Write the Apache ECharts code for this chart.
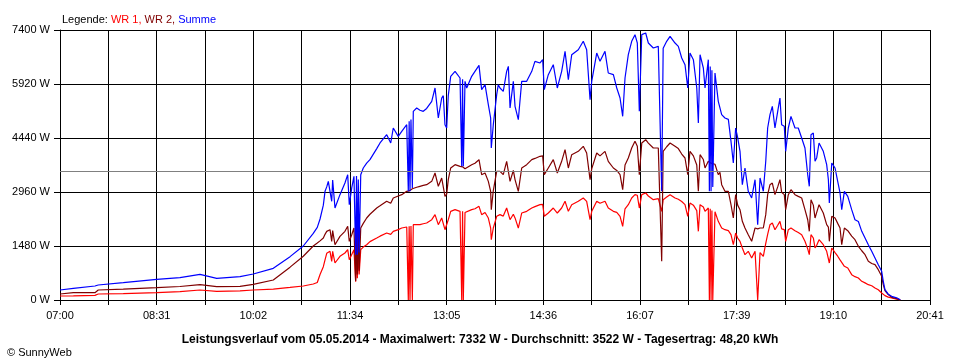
<!DOCTYPE html>
<html><head><meta charset="utf-8">
<script src="https://cdn.jsdelivr.net/npm/echarts@6/dist/echarts.min.js"></script>
<style>html,body{margin:0;padding:0;background:#fff}#c{width:960px;height:360px}</style>
</head><body><div id="c"></div>
<script>
// minutes after 07:00
const minutesAfter0700 = [
0,12.6,33.0,36.1,59.7,91.3,113.2,132.1,147.9,169.9,
182.4,201.3,217.1,229.6,239.0,242.8,245.4,248.5,250.1,251.7,
253.2,254.8,256.4,257.3,259.5,264.2,268.9,271.5,273.0,275.3,
277.4,279.0,279.8,280.6,281.5,282.3,283.8,286.2,289.4,292.5,
298.9,302.0,308.3,312.1,314.5,319.2,322.5,327.2,328.7,329.5,
330.3,331.2,332.5,333.4,336.6,339.7,342.8,346.0,350.8,353.9,
357.0,360.2,361.7,363.3,364.9,366.4,368.7,372.8,377.5,379.1,
379.9,380.6,382.2,383.8,388.5,391.6,395.4,397.9,401.1,404.2,
406.4,407.0,408.9,412.1,413.6,415.2,418.3,421.5,423.1,424.7,
427.8,429.4,432.5,435.7,440.4,445.2,448.2,453.0,455.5,457.0,
460.8,465.5,469.3,473.4,476.6,479.7,482.9,489.1,493.8,497.0,
500.2,501.8,506.5,509.6,514.3,517.4,522.2,525.4,528.5,531.0,
533.2,536.3,539.5,542.6,544.8,546.7,549.0,552.7,555.2,559.9,
564.6,567.8,569.2,572.5,575.7,580.4,583.5,586.7,589.8,592.4,
594.5,597.7,600.9,602.4,604.0,607.1,608.7,611.8,612.8,613.6,
614.4,615.2,616.0,618.1,621.2,622.8,624.4,627.5,630.7,633.2,
635.4,637.6,639.5,641.7,643.9,646.4,649.5,652.7,655.9,658.4,
660.6,663.7,666.0,667.8,670.0,672.2,674.7,677.3,679.4,681.0,
683.5,684.8,687.3,689.8,693.6,696.7,699.9,703.0,705.6,707.1,
708.7,710.9,712.5,714.1,716.3,720.3,723.5,725.1,726.0,728.3,
731.4,733.9,736.1,737.7,740.2,743.4,747.1,750.2,753.4,756.6,
759.7,762.8,766.0,769.1,772.2,775.4,776.9,778.5,781.6,784.8,
789.5,791.1,793.0];
const wr1 = [
110,115,128,164,175,201,230,274,238,250,
274,300,345,384,438,480,700,913,1100,1279,
1320,1334,1060,1334,1014,1197,1288,1379,1105,1250,
1379,502,1380,600,1350,700,1379,1450,1516,1600,
1699,1750,1836,1800,1882,1930,1973,2000,0,2020,
0,2030,0,2065,2065,2065,2090,2110,2201,2339,
2065,2247,2200,1927,1950,2200,2430,2476,2430,0,
2430,0,2400,2384,2476,2500,2567,2339,2400,2247,
1973,1653,1973,2293,2330,2339,2300,2521,2550,2201,
2350,2250,1973,2384,2430,2521,2560,2613,2620,2293,
2384,2521,2384,2521,2705,2430,2613,2705,2796,2705,
2201,2430,2705,2650,2705,2520,2430,2400,2293,2019,
2500,2613,2796,2887,2870,2521,2887,2933,2850,2750,
2780,2430,2750,2820,2887,2796,2760,2700,2613,2293,
2659,2600,2450,1882,2613,2550,2430,2521,0,2500,
0,2450,0,2420,2156,2150,1973,1927,1900,1790,
1516,1836,1700,1608,1425,1242,1334,1151,1334,0,
1300,1197,1550,1800,2065,2110,1927,2050,2156,1950,
1927,1608,1927,1973,1900,1850,1790,1608,1400,1242,
1790,1700,1425,1500,1653,1516,1334,1300,1014,1425,
1300,1200,1100,1060,923,877,694,640,603,512,
470,420,390,329,280,192,160,119,80,55,
20,0,0];
const wr2 = [
164,201,201,274,300,338,370,420,366,375,
429,548,900,1200,1480,1560,1620,1700,1800,1880,
1918,1927,1608,1900,1516,1745,1882,2019,1608,1790,
1973,520,1970,700,1950,800,1973,2100,2247,2350,
2521,2580,2705,2650,2796,2850,2887,2979,2979,2990,
3000,3000,3050,3070,3090,3115,3140,3160,3252,3481,
3115,3344,3300,2842,2900,3300,3618,3709,3664,3664,
3650,3650,3600,3572,3709,3750,3846,3435,3480,3252,
2979,2476,3000,3526,3550,3526,3435,3801,3850,3252,
3550,3300,2979,3618,3709,3846,3880,3938,3950,3435,
3618,3846,3481,3801,4121,3618,3983,4075,4212,4029,
3298,3600,4029,3950,4075,3800,3618,3550,3435,3024,
3700,3892,4166,4349,4212,3435,4303,4394,4300,4166,
4166,1060,4075,4200,4303,4212,4150,4000,3892,3435,
4075,3950,3700,2979,3983,3850,3618,3801,3800,3780,
3750,3730,3720,3720,3435,3500,3160,2979,2979,2613,
2247,2887,2600,2476,2156,1973,1790,1608,1973,1950,
1973,1973,2339,2887,3160,3206,2887,3100,3298,2950,
2887,2476,2887,3024,2887,2840,2796,2476,2200,1882,
2750,2600,2247,2400,2613,2384,2065,2000,1608,2293,
2247,2100,1973,1516,1973,1900,1750,1653,1471,1350,
1242,1060,1000,968,831,649,420,260,150,74,
36,20,0];
const summe = [
274,320,384,411,475,567,612,704,594,639,
713,868,1188,1480,1827,1990,2220,2600,2979,3100,
3252,3270,2705,3289,2521,2887,3206,3435,2613,3070,
3389,1242,3400,1242,3300,1300,3435,3618,3750,3846,
4150,4303,4531,4303,4714,4486,4623,4805,2979,4900,
2979,4950,3070,5171,5262,5200,5171,5250,5445,5810,
4988,5536,5600,4805,4714,5600,6130,6267,6084,3664,
6050,3664,5993,5810,6130,6267,6431,5765,5901,5353,
4988,4166,4805,5627,5901,5810,5719,6267,6404,5262,
5993,5309,4942,5993,5993,6267,6541,6496,6587,5765,
6176,6450,5810,6267,6815,6039,6724,6860,7090,6860,
5490,6000,6769,6541,6815,6221,6176,5810,5536,5034,
6084,6724,7090,7272,7043,5171,7272,7318,7043,6907,
6952,2979,6900,7090,7227,7043,6952,6633,6450,5810,
6769,6587,5810,4851,6724,6359,5810,6587,2979,6400,
2979,6300,3100,6221,5445,5445,5079,4988,4950,4349,
3755,4714,4450,4075,3160,3618,2979,2796,3298,2065,
3344,2979,3801,4714,5079,5309,4714,5171,5536,4805,
4760,4075,4714,5034,4714,4714,4440,4166,3435,3115,
4531,4577,3801,3900,4303,4075,3709,3298,2659,3755,
3618,3252,2933,2476,2979,2842,2476,2201,2150,1882,
1699,1516,1334,1151,968,786,512,283,160,100,
60,55,5];
const tickLabels = ['07:00','08:31','10:02','11:34','13:05','14:36','16:07','17:39','19:10','20:41'];
const spanMinutes = 821;
const average = 3522;
const yMax = 7400, yStep = 1480;
const caption = 'Leistungsverlauf vom 05.05.2014 - Maximalwert: 7332 W - Durchschnitt: 3522 W - Tagesertrag: 48,20 kWh';

const FONT = 'Liberation Sans, Arial, sans-serif';
const step = spanMinutes / 18;
const mk = arr => minutesAfter0700.map((t, i) => [t, arr[i]]);
const chart = echarts.init(document.getElementById('c'), null, {renderer: 'canvas'});
chart.setOption({
  animation: false,
  backgroundColor: '#fff',
  grid: {left: 60, right: 30, top: 30, bottom: 60, containLabel: false},
  title: [
    {text: '{k|Legende: }{a|WR 1, }{b|WR 2, }{c|Summe}', left: 57, top: 9,
     textStyle: {fontFamily: FONT, fontSize: 11, fontWeight: 'normal',
       rich: {k: {color: '#000', fontFamily: FONT, fontSize: 11}, a: {color: '#ff0000', fontFamily: FONT, fontSize: 11},
              b: {color: '#800000', fontFamily: FONT, fontSize: 11}, c: {color: '#0000ff', fontFamily: FONT, fontSize: 11}}}},
    {text: caption, left: 'center', top: 329, textStyle: {fontFamily: FONT, fontSize: 12, fontWeight: 'bold', color: '#000'}},
    {text: '© SunnyWeb', left: 2, top: 342, textStyle: {fontFamily: FONT, fontSize: 11, fontWeight: 'normal', color: '#000'}}
  ],
  xAxis: {
    type: 'value', min: 0, max: spanMinutes, interval: step,
    axisLine: {show: true, lineStyle: {color: '#000', width: 1}},
    axisTick: {show: true, length: 5, lineStyle: {color: '#000'}},
    splitLine: {show: true, lineStyle: {color: '#000', width: 1}},
    axisLabel: {color: '#000', fontFamily: FONT, fontSize: 11, margin: 10,
      formatter: v => { const k = Math.round(v / step); return k % 2 === 0 ? tickLabels[k / 2] : ''; }}
  },
  yAxis: {
    type: 'value', min: 0, max: yMax, interval: yStep,
    axisLine: {show: true, lineStyle: {color: '#000', width: 1}},
    axisTick: {show: true, length: 6, lineStyle: {color: '#000'}},
    splitLine: {show: true, lineStyle: {color: '#000', width: 1}},
    axisLabel: {color: '#000', fontFamily: FONT, fontSize: 11, margin: 10, formatter: v => v + ' W'}
  },
  series: [
    {name: 'WR 1', type: 'line', data: mk(wr1), showSymbol: false, symbol: 'none',
     lineStyle: {color: '#ff0000', width: 1.2}, itemStyle: {color: '#ff0000'},
     markLine: {silent: true, symbol: 'none', label: {show: false},
       lineStyle: {color: '#808080', type: 'solid', width: 1}, data: [{yAxis: average}]}},
    {name: 'WR 2', type: 'line', data: mk(wr2), showSymbol: false, symbol: 'none',
     lineStyle: {color: '#800000', width: 1.2}, itemStyle: {color: '#800000'}},
    {name: 'Summe', type: 'line', data: mk(summe), showSymbol: false, symbol: 'none',
     lineStyle: {color: '#0000ff', width: 1.2}, itemStyle: {color: '#0000ff'}}
  ]
});
</script></body></html>
